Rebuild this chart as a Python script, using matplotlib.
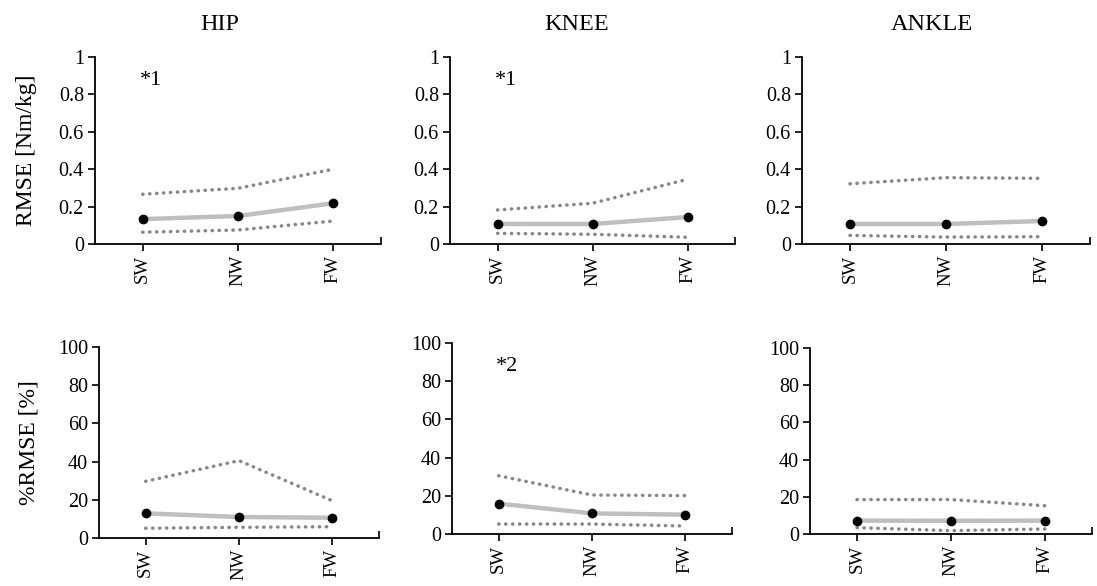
import matplotlib
matplotlib.use("Agg")
import matplotlib.pyplot as plt
import numpy as np

plt.rcParams['font.family'] = ['Liberation Serif', 'DejaVu Serif']

categories = ["SW", "NW", "FW"]
joints = ["HIP", "KNEE", "ANKLE"]

# RMSE [Nm/kg]: mean, upper bound, lower bound per joint
rmse_mean = {"HIP": [0.133, 0.150, 0.218], "KNEE": [0.107, 0.107, 0.144], "ANKLE": [0.107, 0.107, 0.123]}
rmse_upper = {"HIP": [0.266, 0.298, 0.400], "KNEE": [0.182, 0.218, 0.346], "ANKLE": [0.322, 0.355, 0.351]}
rmse_lower = {"HIP": [0.063, 0.075, 0.123], "KNEE": [0.057, 0.052, 0.036], "ANKLE": [0.046, 0.037, 0.039]}

# %RMSE [%]
prmse_mean = {"HIP": [12.9, 11.0, 10.6], "KNEE": [15.9, 10.8, 10.1], "ANKLE": [7.2, 7.1, 7.2]}
prmse_upper = {"HIP": [29.7, 40.5, 19.5], "KNEE": [30.5, 20.4, 20.1], "ANKLE": [18.5, 18.5, 15.2]}
prmse_lower = {"HIP": [5.1, 5.6, 5.9], "KNEE": [5.2, 5.2, 4.2], "ANKLE": [3.4, 1.8, 2.7]}

rmse_ticks = [0, 0.2, 0.4, 0.6, 0.8, 1]
rmse_ticklabels = ["0", "0.2", "0.4", "0.6", "0.8", "1"]
prmse_ticks = [0, 20, 40, 60, 80, 100]

notes_top = {"HIP": "*1", "KNEE": "*1"}
notes_bottom = {"KNEE": "*2"}

W, H = 1097, 586
fig = plt.figure(figsize=(W / 100, H / 100), dpi=100)


def box(x0, x1, ytop, ybot):
    return [x0 / W, 1 - ybot / H, (x1 - x0) / W, (ybot - ytop) / H]


top_boxes = {"HIP": box(95, 381, 57, 244), "KNEE": box(450, 735, 57, 244), "ANKLE": box(802, 1090, 57, 244)}
bot_boxes = {"HIP": box(99, 379, 347, 538), "KNEE": box(452, 732, 343, 534), "ANKLE": box(810, 1092, 348, 534)}

xpos = np.arange(len(categories)) + 0.5
band_color = "#878787"
mean_color = "#bfbfbf"
dotted = (0, (0.1, 1.9))


def draw_panel(ax, mean, upper, lower, ymax, ticks, ticklabels, note, note_x):
    ax.plot(xpos, upper, color=band_color, lw=2.5, linestyle=dotted,
            dash_capstyle="round", zorder=2)
    ax.plot(xpos, lower, color=band_color, lw=2.5, linestyle=dotted,
            dash_capstyle="round", zorder=2)
    ax.plot(xpos, mean, color=mean_color, lw=3.2, zorder=3, solid_capstyle="round")
    ax.plot(xpos, mean, linestyle="none", marker="o", ms=6, color="black", zorder=4)
    ax.set_xlim(0, 3)
    ax.set_ylim(0, ymax)
    for s in ["top", "right"]:
        ax.spines[s].set_visible(False)
    for s in ["left", "bottom"]:
        ax.spines[s].set_linewidth(1.3)
        ax.spines[s].set_color("black")
    ax.set_yticks(ticks)
    ax.set_yticklabels(ticklabels, fontsize=14.5)
    ax.set_xticks(xpos)
    ax.set_xticklabels(categories, rotation=90, fontsize=13.5)
    ax.tick_params(axis="both", direction="out", length=5, width=1.2, color="black", pad=3)
    ax.set_xticks([3], minor=True)
    ax.tick_params(axis="x", which="minor", direction="in", length=5, width=1.2)
    if note:
        ax.text(note_x, ymax * 0.875, note, fontsize=16, ha="left", va="center")


for j in joints:
    ax = fig.add_axes(top_boxes[j])
    draw_panel(ax, rmse_mean[j], rmse_upper[j], rmse_lower[j], 1.0,
               rmse_ticks, rmse_ticklabels, notes_top.get(j), 0.47)
    if j == "HIP":
        ax.set_ylabel("RMSE [Nm/kg]", fontsize=17)
        ax.yaxis.set_label_coords(-0.203, 0.5)

    ax2 = fig.add_axes(bot_boxes[j])
    draw_panel(ax2, prmse_mean[j], prmse_upper[j], prmse_lower[j], 100,
               prmse_ticks, [str(t) for t in prmse_ticks], notes_bottom.get(j), 0.47)
    if j == "HIP":
        ax2.set_ylabel("%RMSE [%]", fontsize=17)
        ax2.yaxis.set_label_coords(-0.212, 0.5)

title_x = {"HIP": 220, "KNEE": 577, "ANKLE": 932}
for j in joints:
    fig.text(title_x[j] / W, 1 - 25 / H, j, fontsize=17.5, ha="center", va="center")

fig.savefig("out.png", dpi=100)
